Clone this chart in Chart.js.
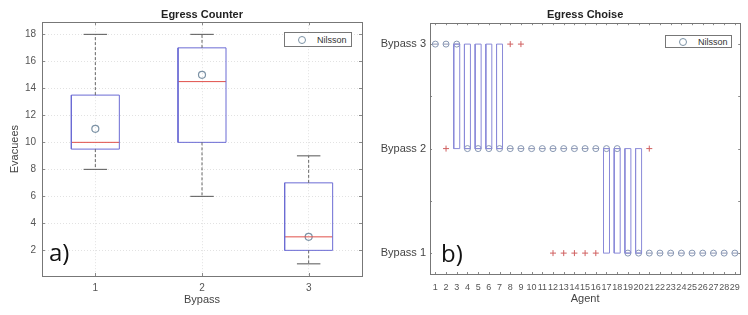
<!DOCTYPE html>
<html>
<head>
<meta charset="utf-8">
<script src="https://cdn.jsdelivr.net/npm/chart.js@4.4.1/dist/chart.umd.min.js"></script>
<style>
  body { margin: 0; background: #fff; width: 748px; height: 315px; position: relative; overflow: hidden;
         font-family: "Liberation Sans", Arial, sans-serif; }
  canvas { position: absolute; top: 0; }
  #counter { left: 0; }
  #choice { left: 370px; }
  .legend { position: absolute; background: #fff; border: 1px solid #777; font-size: 9px; color: #333;
            display: flex; align-items: center; box-sizing: border-box; white-space: nowrap; }
  .legend .mark { flex: none; width: 6px; height: 6px; border: 1px solid #7d93a6; border-radius: 50%; margin: 0 11px 0 13px; }
  .tag { position: absolute; font-family: "Open Sans", "Liberation Sans", sans-serif; font-size: 24px; color: #111; line-height: 1; }
</style>
</head>
<body>
<canvas id="counter" width="370" height="315"></canvas>
<canvas id="choice" width="378" height="315"></canvas>
<div class="legend" style="left:284px;top:32px;width:68px;height:15px"><span class="mark"></span>Nilsson</div>
<div class="legend" style="left:665px;top:35px;width:67px;height:13px"><span class="mark"></span>Nilsson</div>
<div class="tag" style="left:49px;top:240px">a)</div>
<div class="tag" style="left:441px;top:241px">b)</div>
<script>
// ---- a) Egress Counter
const bypass = [1, 2, 3];
const boxLow = [9.5, 10, 2];
const boxHigh = [13.5, 17, 7];
const medians = [10, 14.5, 3];
const whiskerMin = [8, 6, 1];
const whiskerMax = [18, 18, 9];
const nilssonCounter = [11, 15, 3];
const counterTicks = [2, 4, 6, 8, 10, 12, 14, 16, 18];

// ---- b) Egress Choise
const agents = [1, 2, 3, 4, 5, 6, 7, 8, 9, 10, 11, 12, 13, 14, 15, 16, 17, 18, 19, 20, 21, 22, 23, 24, 25, 26, 27, 28, 29];
const choiceLow  = [null, null, 2, 2, 2, 2, 2, null, null, null, null, null, null, null, null, null, 1, 1, 1, 1, null, null, null, null, null, null, null, null, null];
const choiceHigh = [null, null, 3, 3, 3, 3, 3, null, null, null, null, null, null, null, null, null, 2, 2, 2, 2, null, null, null, null, null, null, null, null, null];
const nilssonChoice = [3, 3, 3, 2, 2, 2, 2, 2, 2, 2, 2, 2, 2, 2, 2, 2, 2, 2, 1, 1, 1, 1, 1, 1, 1, 1, 1, 1, 1];
const outlierAgent = [2, 8, 9, 12, 13, 14, 15, 16, 21];
const outlierValue = [2, 3, 3, 1, 1, 1, 1, 1, 2];
const choiceTicks = [1, 1.5, 2, 2.5, 3];
const choiceLabels = { 1: 'Bypass 1', 2: 'Bypass 2', 3: 'Bypass 3' };

const FONT = '"Liberation Sans", Arial, sans-serif';

// polyline helpers, gaps are null points
function boxes(xs, lo, hi, hw) {
  const pts = [];
  xs.forEach((c, i) => {
    if (lo[i] == null) return;
    pts.push({x: c - hw, y: lo[i]}, {x: c + hw, y: lo[i]}, {x: c + hw, y: hi[i]},
             {x: c - hw, y: hi[i]}, {x: c - hw, y: lo[i]}, {x: c, y: null});
  });
  return pts;
}
function hlines(xs, ys, hw) {
  const pts = [];
  xs.forEach((c, i) => pts.push({x: c - hw, y: ys[i]}, {x: c + hw, y: ys[i]}, {x: c, y: null}));
  return pts;
}
function vlines(xs, y1, y2) {
  const pts = [];
  xs.forEach((c, i) => pts.push({x: c, y: y1[i]}, {x: c, y: y2[i]}, {x: c, y: null}));
  return pts;
}
function points(xs, ys) {
  return xs.map((c, i) => ({x: c, y: ys[i]}));
}

function line(data, color, dash) {
  return { data, showLine: true, borderColor: color, borderWidth: 1, borderDash: dash || [],
           pointRadius: 0, spanGaps: false };
}

// frame + small inward ticks, like matlab axes
const frame = {
  id: 'frame',
  afterDraw(chart, args, opts) {
    const {ctx, chartArea: a} = chart;
    const xs = chart.scales.x, ys = chart.scales.y;
    const len = opts.len;
    ctx.save();
    ctx.strokeStyle = '#8a8a8a';
    ctx.lineWidth = 1;
    ctx.beginPath();
    xs.ticks.forEach(t => {
      const p = Math.round(xs.getPixelForValue(t.value)) + 0.5;
      ctx.moveTo(p, a.bottom); ctx.lineTo(p, a.bottom - len);
      ctx.moveTo(p, a.top); ctx.lineTo(p, a.top + len);
    });
    ys.ticks.forEach(t => {
      const p = Math.round(ys.getPixelForValue(t.value)) + 0.5;
      ctx.moveTo(a.left, p); ctx.lineTo(a.left + len, p);
      ctx.moveTo(a.right, p); ctx.lineTo(a.right - len, p);
    });
    ctx.stroke();
    ctx.strokeStyle = '#777';
    ctx.strokeRect(Math.round(a.left) + 0.5, Math.round(a.top) + 0.5,
                   Math.round(a.right - a.left), Math.round(a.bottom - a.top));
    ctx.restore();
  }
};

function title(text, top, bottom) {
  return { display: true, text, fullSize: false, color: '#222',
           font: { family: FONT, size: 11, weight: 'bold' }, padding: { top, bottom } };
}

new Chart(document.getElementById('counter'), {
  type: 'scatter',
  data: {
    datasets: [
      line(vlines(bypass, boxHigh, whiskerMax), '#666', [3, 2]),
      line(vlines(bypass, boxLow, whiskerMin), '#666', [3, 2]),
      line(hlines(bypass, whiskerMax, 0.11), '#555'),
      line(hlines(bypass, whiskerMin, 0.11), '#555'),
      line(boxes(bypass, boxLow, boxHigh, 0.225), '#6b6bd4'),
      line(hlines(bypass, medians, 0.225), '#e0504a'),
      { label: 'Nilsson', data: points(bypass, nilssonCounter), pointStyle: 'circle', pointRadius: 3.5,
        pointBorderColor: '#7d93a6', pointBackgroundColor: 'rgba(0,0,0,0)', pointBorderWidth: 1.2 }
    ]
  },
  options: {
    responsive: false, animation: false, events: [],
    layout: { padding: { right: 8 } },
    plugins: { legend: { display: false }, tooltip: { enabled: false },
               title: title('Egress Counter', 8, 1), frame: { len: 3 } },
    scales: {
      x: {
        type: 'linear', min: 0.5, max: 3.5,
        afterBuildTicks: s => { s.ticks = bypass.map(v => ({value: v})); },
        afterFit: s => { s.height = 39; },
        grid: { color: '#e2e2e2', drawTicks: false },
        border: { display: false, dash: [1, 2] },
        ticks: { color: '#555', font: { family: FONT, size: 10 }, padding: 6 },
        title: { display: true, text: 'Bypass', color: '#444', font: { family: FONT, size: 11 }, padding: { bottom: 8 } }
      },
      y: {
        min: 0.1, max: 18.9,
        afterBuildTicks: s => { s.ticks = counterTicks.map(v => ({value: v})); },
        afterFit: s => { s.width = 42; },
        grid: { color: '#e2e2e2', drawTicks: false },
        border: { display: false, dash: [1, 2] },
        ticks: { color: '#555', font: { family: FONT, size: 10 }, padding: 6 },
        title: { display: true, text: 'Evacuees', color: '#444', font: { family: FONT, size: 11 }, padding: { top: 8 } }
      }
    }
  },
  plugins: [frame]
});

new Chart(document.getElementById('choice'), {
  type: 'scatter',
  data: {
    datasets: [
      line(boxes(agents, choiceLow, choiceHigh, 0.28), '#8a8ad8'),
      line(hlines(agents, nilssonChoice, 0.28), '#8a94b4'),
      { label: 'outliers', data: points(outlierAgent, outlierValue), pointStyle: 'cross', pointRadius: 3,
        pointBorderColor: '#d06060', pointBorderWidth: 1 },
      { label: 'Nilsson', data: points(agents, nilssonChoice), pointStyle: 'circle', pointRadius: 3,
        pointBorderColor: '#8797b2', pointBackgroundColor: 'rgba(0,0,0,0)', pointBorderWidth: 1 }
    ]
  },
  options: {
    responsive: false, animation: false, events: [],
    layout: { padding: { right: 7 } },
    plugins: { legend: { display: false }, tooltip: { enabled: false },
               title: title('Egress Choise', 8, 2), frame: { len: 2 } },
    scales: {
      x: {
        type: 'linear', min: 0.5, max: 29.5,
        afterBuildTicks: s => { s.ticks = agents.map(v => ({value: v})); },
        afterFit: s => { s.height = 41; },
        grid: { display: false, drawTicks: false },
        border: { display: false },
        ticks: { color: '#555', font: { family: FONT, size: 9 }, padding: 8, autoSkip: false, maxRotation: 0 },
        title: { display: true, text: 'Agent', color: '#444', font: { family: FONT, size: 11 }, padding: { bottom: 9 } }
      },
      y: {
        min: 0.8, max: 3.2,
        afterBuildTicks: s => { s.ticks = choiceTicks.map(v => ({value: v})); },
        afterFit: s => { s.width = 60; },
        grid: { display: false, drawTicks: false },
        border: { display: false },
        ticks: { color: '#444', font: { family: FONT, size: 11 }, padding: 4,
                 callback: v => choiceLabels[v] || '' }
      }
    }
  },
  plugins: [frame]
});
</script>
</body>
</html>
